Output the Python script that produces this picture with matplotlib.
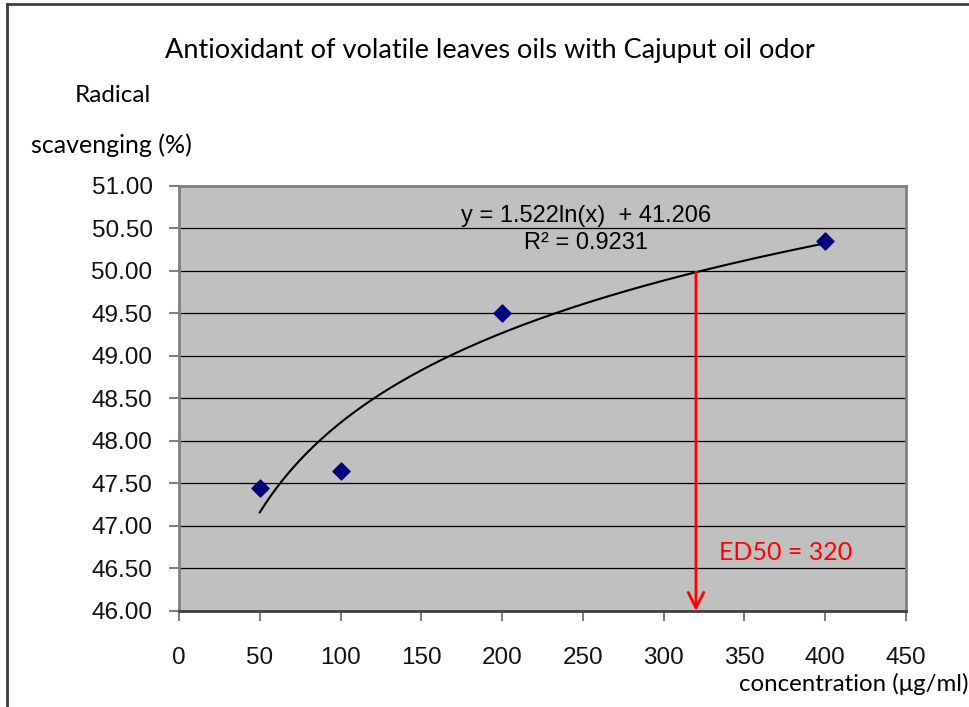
import matplotlib
matplotlib.use("Agg")
import matplotlib.pyplot as plt
from matplotlib.lines import Line2D
import numpy as np

# data
conc = [50, 100, 200, 400]
scavenging = [47.45, 47.65, 49.50, 50.35]
fit_a, fit_b = 1.522, 41.206
ed50 = 320
x_ticks = [0, 50, 100, 150, 200, 250, 300, 350, 400, 450]
y_ticks = [46.0, 46.5, 47.0, 47.5, 48.0, 48.5, 49.0, 49.5, 50.0, 50.5, 51.0]

fig = plt.figure(figsize=(9.69, 7.07), dpi=100)
ax = fig.add_axes([0.1847, 0.1358, 0.7503, 0.6012])
ax.set_facecolor('#c0c0c0')

ax.set_xlim(0, 450)
ax.set_ylim(46, 51)
ax.set_xticks(x_ticks)
ax.set_yticks(y_ticks)
ax.set_yticklabels([f"{v:.2f}" for v in y_ticks])
for lab in ax.get_xticklabels() + ax.get_yticklabels():
    lab.set_fontfamily('Liberation Sans')
    lab.set_fontsize(17.5)
    lab.set_color('#111111')
ax.tick_params(axis='both', direction='out', length=7, color='#808080', width=1.5)
ax.tick_params(axis='y', pad=12)
ax.tick_params(axis='x', pad=19)

ax.yaxis.grid(True, color='black', linewidth=0.9)
ax.set_axisbelow(True)
for side in ['top', 'right', 'left']:
    ax.spines[side].set_color('#808080')
    ax.spines[side].set_linewidth(2)
ax.spines['bottom'].set_color('#404040')
ax.spines['bottom'].set_linewidth(2)

# trendline
xs = np.linspace(conc[0], conc[-1], 200)
ax.plot(xs, fit_a * np.log(xs) + fit_b, color='black', linewidth=1.5, zorder=3)
ax.scatter(conc, scavenging, marker='D', s=75, color='#000080', zorder=4)

ax.text(252, 50.65, 'y = 1.522ln(x)  + 41.206', fontsize=17,
        family='Liberation Sans', ha='center', va='center')
ax.text(252, 50.33, 'R² = 0.9231', fontsize=17,
        family='Liberation Sans', ha='center', va='center')

# ED50 arrow
ax.annotate('', xy=(ed50, 46.0), xytext=(ed50, fit_a * np.log(ed50) + fit_b),
            arrowprops=dict(arrowstyle='->', color='red', lw=2,
                            mutation_scale=28, shrinkA=0, shrinkB=0))
ax.text(334, 46.69, 'ED50 = 320', color='red', fontsize=18, family='Lato',
        va='center')

fig.text(0.506, 0.928, 'Antioxidant of volatile leaves oils with Cajuput oil odor',
         ha='center', va='center', fontsize=19.5, family='Lato')
fig.text(0.077, 0.865, 'Radical', fontsize=17.5, family='Lato', va='center')
fig.text(0.032, 0.795, 'scavenging (%)', fontsize=18, family='Lato', va='center')
fig.text(0.999, 0.032, 'concentration (μg/ml)', fontsize=17.3, family='Lato',
         ha='right', va='center')

# outer frame lines
fig.add_artist(Line2D([0.007, 0.007], [0.0, 0.994], transform=fig.transFigure,
                      color='#404040', linewidth=2))
fig.add_artist(Line2D([0.007, 1.0], [0.994, 0.994], transform=fig.transFigure,
                      color='#404040', linewidth=2))

fig.savefig('out.png', dpi=100)
